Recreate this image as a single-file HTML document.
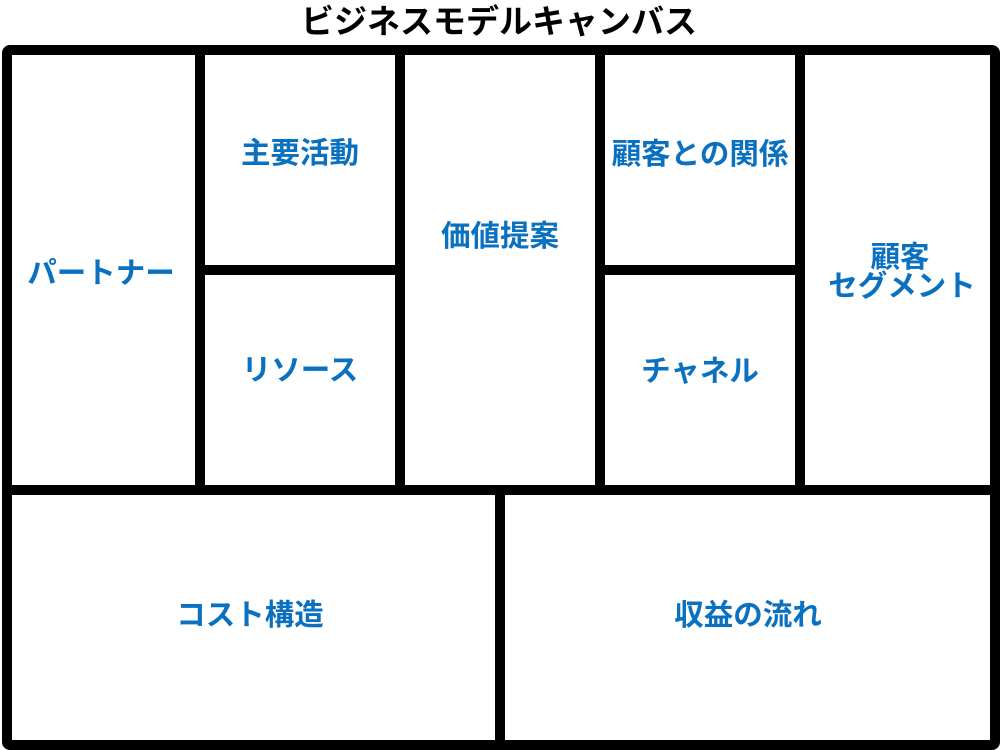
<!DOCTYPE html>
<html><head><meta charset="utf-8"><style>
html,body{margin:0;padding:0;background:#fff;width:1000px;height:750px;overflow:hidden}
svg text{font-family:"Liberation Sans","Noto Sans CJK JP",sans-serif;font-weight:bold}
</style></head><body>
<svg width="1000" height="750" viewBox="0 0 1000 750" xmlns="http://www.w3.org/2000/svg">
<text x="499" y="33" font-size="33" fill="#000" text-anchor="middle">ビジネスモデルキャンバス</text>
<g stroke="#000" stroke-width="10" fill="none">
<rect x="7" y="50" width="988" height="695" rx="3"/>
<line x1="200" y1="50" x2="200" y2="490"/>
<line x1="400" y1="50" x2="400" y2="490"/>
<line x1="600" y1="50" x2="600" y2="490"/>
<line x1="800" y1="50" x2="800" y2="490"/>
<line x1="200" y1="270" x2="400" y2="270"/>
<line x1="600" y1="270" x2="800" y2="270"/>
<line x1="7" y1="490" x2="995" y2="490"/>
<line x1="500" y1="490" x2="500" y2="745"/>
</g>
<g fill="#0a70c0" font-size="29.5" text-anchor="middle">
<text x="101" y="283">パートナー</text>
<text x="300" y="163">主要活動</text>
<text x="300" y="380">リソース</text>
<text x="500" y="246">価値提案</text>
<text x="700" y="164">顧客との関係</text>
<text x="700" y="381">チャネル</text>
<text x="900" y="267">顧客</text>
<text x="902" y="296">セグメント</text>
<text x="250" y="625">コスト構造</text>
<text x="748" y="625">収益の流れ</text>
</g>
</svg>
</body></html>
